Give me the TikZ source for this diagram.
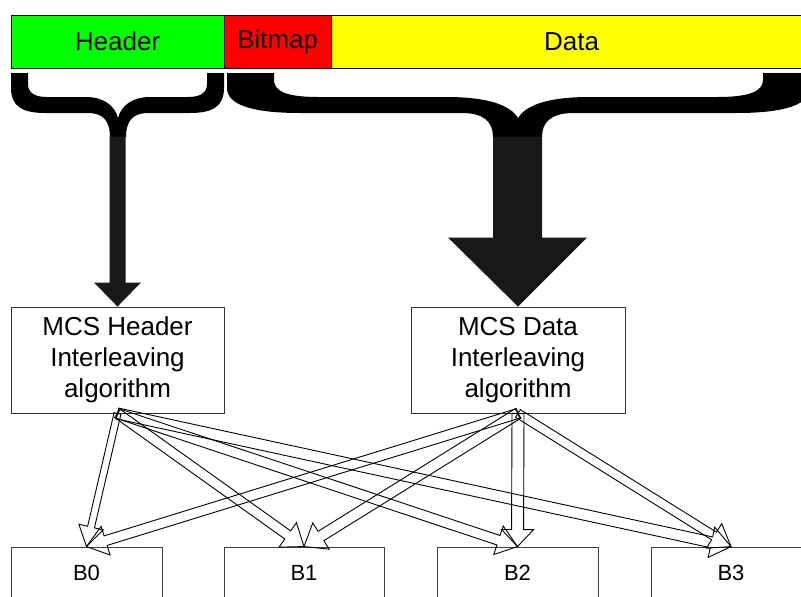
\documentclass[tikz,border=0pt]{standalone}
\usepackage{fontspec}
\setmainfont{Liberation Sans}
\usetikzlibrary{calc}
\newcommand\hollowarr[5]{%
  \draw[hollow] let \p1=(#1), \p2=(#2), \n1={atan2(\y2-\y1,\x2-\x1)} in
  ($(\p1)+(\n1+90:#3)$) -- ($(\p2)+(\n1+180:#5)+(\n1+90:#3)$) -- ($(\p2)+(\n1+180:#5)+(\n1+90:#4)$) -- (\p2) -- ($(\p2)+(\n1+180:#5)+(\n1-90:#4)$) -- ($(\p2)+(\n1+180:#5)+(\n1-90:#3)$) -- ($(\p1)+(\n1-90:#3)$) -- cycle;}
\tikzset{
  barbox/.style={draw=black, line width=1pt, minimum height=53pt, inner sep=0pt, font=\fontsize{26}{31}\selectfont},
  algbox/.style={draw=black!80, line width=0.9pt, fill=white, minimum width=213pt, minimum height=106pt, align=center, inner sep=0pt, font=\fontsize{26}{31}\selectfont},
  bbox/.style={draw=black!75, line width=0.9pt, minimum height=52pt, inner sep=0pt, font=\fontsize{22}{26}\selectfont},
  hollow/.style={draw=black, line width=0.9pt, line join=miter},
  brace/.style={fill=black},
  blockarrow/.style={fill=black!90},
}
\definecolor{puregreen}{RGB}{0,255,0}
\definecolor{purered}{RGB}{255,0,0}
\definecolor{pureyellow}{RGB}{255,255,0}
\begin{document}
\begin{tikzpicture}[x=1pt,y=-1pt]
\useasboundingbox (0,0) rectangle (801,597);
\fill[white] (0,0) rectangle (801,597);

% top bar
\node[barbox, fill=puregreen, minimum width=213pt] (hdrbar) at (117.5,41.5) {Header};
\node[barbox, fill=purered, minimum width=107pt] (bmpbar) at (277.5,41.5) {Bitmap};
\node[barbox, fill=pureyellow, minimum width=481pt] (databar) at (571.5,41.5) {Data};

% braces
\fill[brace] (11,73) -- (11,88) .. controls (11,106) and (22,113) .. (45,113) -- (88,113) .. controls (104,113) and (110,122) .. (110,137) -- (126,137) .. controls (126,122) and (132,113) .. (148,113) -- (190,113) .. controls (213,113) and (224,106) .. (224,88) -- (224,73) -- (207,73) -- (207,84) .. controls (207,93) and (200,97) .. (188,97) -- (150,97) .. controls (132,97) and (121,106) .. (118,118) .. controls (115,106) and (104,97) .. (86,97) -- (47,97) .. controls (35,97) and (28,93) .. (28,84) -- (28,73) -- cycle;
\fill[brace] (227,73) -- (227,88) .. controls (227,104) and (250,113) .. (300,113) -- (462,113) .. controls (484,113) and (493,122) .. (493,137) -- (542,137) .. controls (542,122) and (551,113) .. (574,113) -- (737,113) .. controls (786,113) and (810,104) .. (810,88) -- (810,73) -- (763,73) -- (763,80) .. controls (763,91) and (750,97) .. (718,97) -- (590,97) .. controls (548,97) and (526,105) .. (518,118) .. controls (510,105) and (488,97) .. (446,97) -- (318,97) .. controls (286,97) and (274,91) .. (274,80) -- (274,73) -- cycle;

% algorithm boxes
\node[algbox] (mh) at (117.5,360) {MCS Header\\Interleaving\\algorithm};
\node[algbox, minimum width=214pt] (md) at (518,360) {MCS Data\\Interleaving\\algorithm};

% block arrows from braces
\fill[blockarrow] (mh.north) -- ++(-23.5,-24) -- ++(15.5,0) -- ++(0,-146) -- ++(16,0) -- ++(0,146) -- ++(15.5,0) -- cycle;
\fill[blockarrow] (md.north) -- ++(-70,-69) -- ++(45,0) -- ++(0,-101) -- ++(49,0) -- ++(0,101) -- ++(45,0) -- cycle;

% bottom boxes
\node[bbox, minimum width=151pt] (b0) at (86.5,573) {B0};
\node[bbox, minimum width=160pt] (b1) at (304,573) {B1};
\node[bbox, minimum width=161pt] (b2) at (517.5,573) {B2};
\node[bbox, minimum width=160pt] (b3) at (731,573) {B3};

% hollow arrows
\hollowarr{mh.south}{b0.north}{3.5pt}{12.5pt}{20pt}
\hollowarr{mh.south}{b1.north}{5pt}{15pt}{20pt}
\hollowarr{mh.south}{b2.north}{5pt}{15pt}{20pt}
\hollowarr{mh.south}{b3.north}{5.5pt}{15.5pt}{20pt}
\hollowarr{md.south}{b0.north}{5pt}{15pt}{20pt}
\hollowarr{md.south}{b1.north}{5.5pt}{15.5pt}{20pt}
\hollowarr{md.south}{b2.north}{6pt}{16pt}{17pt}
\hollowarr{md.south}{b3.north}{4.5pt}{14.5pt}{20pt}
\end{tikzpicture}
\end{document}
